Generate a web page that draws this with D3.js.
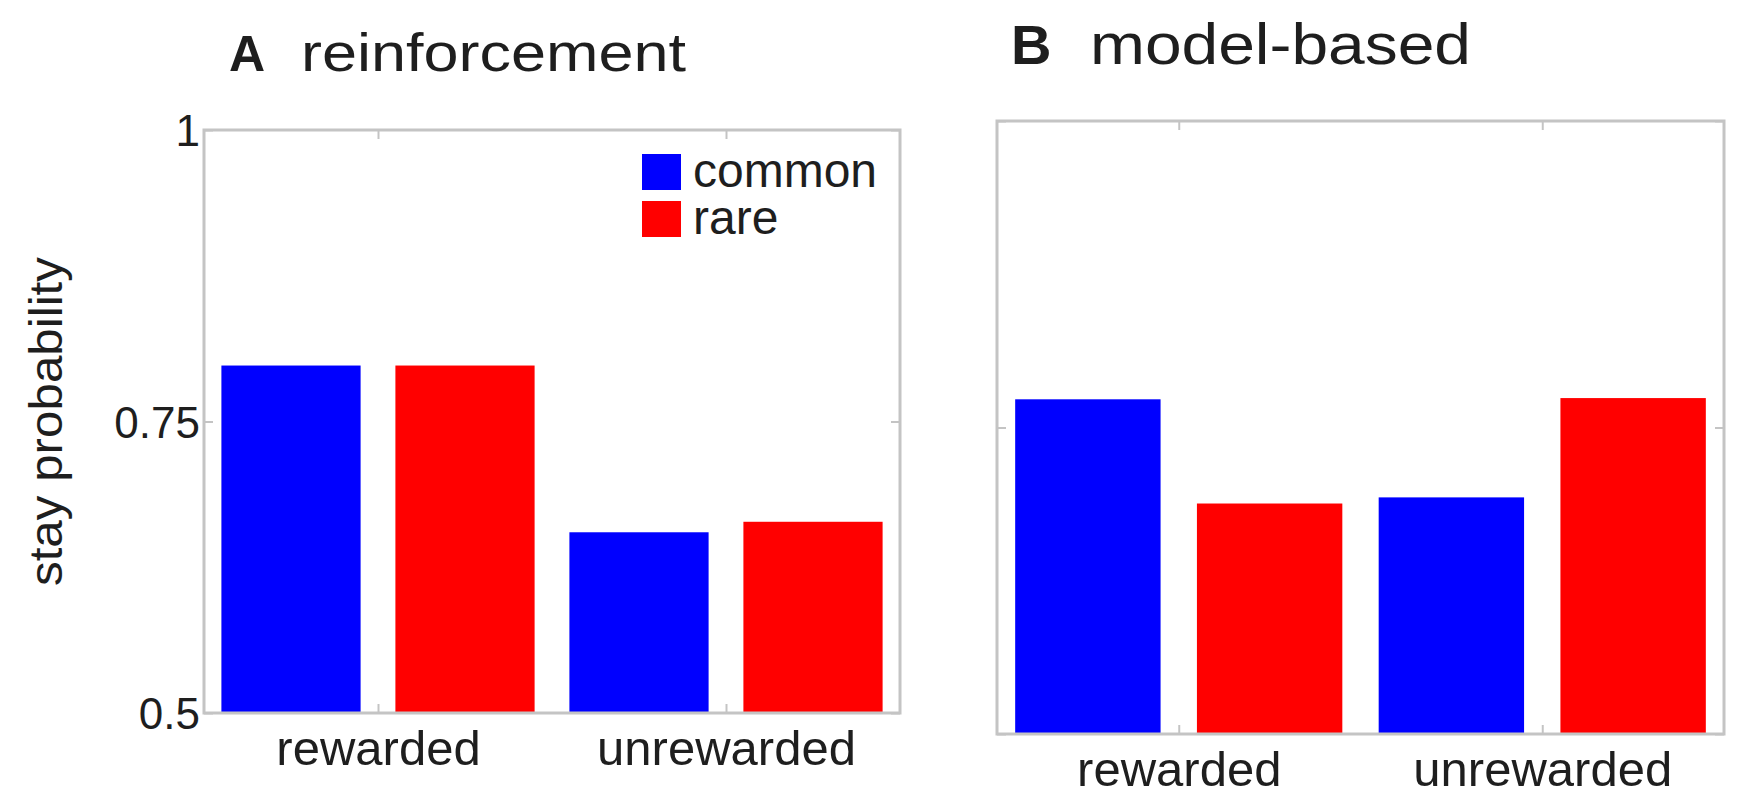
<!DOCTYPE html>
<html>
<head>
<meta charset="utf-8">
<script src="https://cdn.jsdelivr.net/npm/d3@7"></script>
<style>
  html, body { margin: 0; padding: 0; background: #ffffff; }
  svg { display: block; }
  text { font-family: "Liberation Sans", Arial, Helvetica, sans-serif; fill: #1e1e1e; }
</style>
</head>
<body>
<svg id="chart" width="1747" height="795"></svg>
<script>
// ---- data ----
const groups = ["rewarded", "unrewarded"];
const seriesNames = ["common", "rare"];
const seriesColors = ["#0000ff", "#ff0000"];
const reinforcementCommon = [0.798, 0.655];
const reinforcementRare = [0.798, 0.664];
const modelBasedCommon = [0.773, 0.693];
const modelBasedRare = [0.688, 0.774];
const yTickValues = [0.5, 0.75, 1];
const yTickLabels = ["0.5", "0.75", "1"];
const yDomain = [0.5, 1];
const panelTitles = [["A", "reinforcement"], ["B", "model-based"]];
const yAxisLabel = "stay probability";

const svg = d3.select("#chart");
const boxColor = "#c4c4c4";

const panels = [
  { box: { left: 204, right: 900, top: 130, bottom: 713 }, series: [reinforcementCommon, reinforcementRare],
    title: panelTitles[0], letterX: 229, wordX: 301, wordLen: 385, titleY: 71, letterSize: 50, wordSize: 54,
    showYLabels: true, showLegend: true, xlabY: 765 },
  { box: { left: 997, right: 1724, top: 121, bottom: 734 }, series: [modelBasedCommon, modelBasedRare],
    title: panelTitles[1], letterX: 1011, wordX: 1090, wordLen: 381, titleY: 64, letterSize: 56, wordSize: 58,
    showYLabels: false, showLegend: false, xlabY: 786 }
];

panels.forEach(p => {
  const b = p.box;
  const g = svg.append("g");
  const x = d3.scaleLinear().domain([0.5, groups.length + 0.5]).range([b.left, b.right]);
  const y = d3.scaleLinear().domain(yDomain).range([b.bottom, b.top]);
  const offsets = [-0.25, 0.25];
  const barW = 0.4;

  // bars
  p.series.forEach((vals, si) => {
    g.selectAll(null).data(vals).enter().append("rect")
      .attr("x", (d, i) => x(i + 1 + offsets[si] - barW / 2))
      .attr("width", (d, i) => x(i + 1 + offsets[si] + barW / 2) - x(i + 1 + offsets[si] - barW / 2))
      .attr("y", d => y(d))
      .attr("height", d => y(yDomain[0]) - y(d))
      .attr("fill", seriesColors[si]);
  });

  // box
  g.append("rect").attr("x", b.left).attr("y", b.top)
    .attr("width", b.right - b.left).attr("height", b.bottom - b.top)
    .attr("fill", "none").attr("stroke", boxColor).attr("stroke-width", 3);

  // inward ticks via axes
  const tickLen = 9;
  const xt = groups.map((d, i) => i + 1);
  g.append("g").attr("transform", `translate(0,${b.bottom})`)
    .call(d3.axisTop(x).tickValues(xt).tickSize(tickLen).tickFormat(""))
    .call(s => s.select(".domain").remove())
    .call(s => s.selectAll("line").attr("stroke", boxColor).attr("stroke-width", 2));
  g.append("g").attr("transform", `translate(0,${b.top})`)
    .call(d3.axisBottom(x).tickValues(xt).tickSize(tickLen).tickFormat(""))
    .call(s => s.select(".domain").remove())
    .call(s => s.selectAll("line").attr("stroke", boxColor).attr("stroke-width", 2));
  g.append("g").attr("transform", `translate(${b.left},0)`)
    .call(d3.axisRight(y).tickValues(yTickValues).tickSize(tickLen).tickFormat(""))
    .call(s => s.select(".domain").remove())
    .call(s => s.selectAll("line").attr("stroke", boxColor).attr("stroke-width", 2));
  g.append("g").attr("transform", `translate(${b.right},0)`)
    .call(d3.axisLeft(y).tickValues(yTickValues).tickSize(tickLen).tickFormat(""))
    .call(s => s.select(".domain").remove())
    .call(s => s.selectAll("line").attr("stroke", boxColor).attr("stroke-width", 2));

  // y tick labels
  if (p.showYLabels) {
    const ya = g.append("g").attr("transform", `translate(${b.left - 4},0)`)
      .call(d3.axisLeft(y).tickValues(yTickValues).tickSize(0).tickPadding(0)
        .tickFormat((d, i) => yTickLabels[i]));
    ya.select(".domain").remove();
    ya.selectAll("text").attr("font-size", 44).attr("fill", "#222").attr("dy", "0.36em")
      .attr("font-family", "'Liberation Sans', Arial, sans-serif");
    g.append("text")
      .attr("transform", `translate(62,${y(0.75)}) rotate(-90)`)
      .attr("text-anchor", "middle").attr("font-size", 46)
      .attr("textLength", 329).attr("lengthAdjust", "spacingAndGlyphs")
      .text(yAxisLabel);
  }

  // x labels
  const xa = g.append("g").attr("transform", `translate(0,${p.xlabY})`)
    .call(d3.axisBottom(x).tickValues(xt).tickSize(0).tickPadding(0).tickFormat((d, i) => groups[i]));
  xa.select(".domain").remove();
  xa.selectAll("text").attr("font-size", 49).attr("dy", 0).attr("fill", "#222")
    .attr("font-family", "'Liberation Sans', Arial, sans-serif");

  // title
  svg.append("text").attr("x", p.letterX).attr("y", p.titleY).attr("font-size", p.letterSize)
    .attr("font-weight", "bold").text(p.title[0]);
  svg.append("text").attr("x", p.wordX).attr("y", p.titleY).attr("font-size", p.wordSize)
    .attr("textLength", p.wordLen).attr("lengthAdjust", "spacingAndGlyphs").text(p.title[1]);

  // legend
  if (p.showLegend) {
    const lg = g.append("g");
    seriesNames.forEach((name, i) => {
      lg.append("rect").attr("x", 642).attr("y", 154 + i * 47).attr("width", 39).attr("height", 36)
        .attr("fill", seriesColors[i]);
      lg.append("text").attr("x", 693).attr("y", 154 + i * 47 + 33).attr("font-size", 48).text(name);
    });
  }
});
</script>
</body>
</html>
